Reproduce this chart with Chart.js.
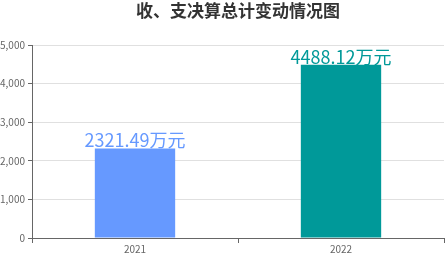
<!DOCTYPE html>
<html lang="zh">
<head>
  <meta charset="UTF-8">
  <title>收、支决算总计变动情况图</title>
  <style>
    html, body { margin: 0; padding: 0; background: white; }
    .chart-box { width: 445px; height: 253px; }
  </style>
</head>
<body>
  <div class="chart-box">
    <canvas id="bar-chart"></canvas>
  </div>
  <script src="https://cdn.jsdelivr.net/npm/chart.js@4.4.0/dist/chart.umd.min.js"></script>
  <script>
    const YEARS = ['2021', '2022'];
    const TOTALS = [2321.49, 4488.12];
    const BAR_COLORS = ['#6699ff', '#009999'];
    const FONT = '"Microsoft YaHei", "Noto Sans CJK SC", sans-serif';

    // 柱顶数值标签
    const valueLabels = {
      id: 'valueLabels',
      afterDatasetsDraw(chart) {
        const ctx = chart.ctx;
        const meta = chart.getDatasetMeta(0);
        ctx.save();
        ctx.font = '18px ' + FONT;
        ctx.textAlign = 'center';
        ctx.textBaseline = 'bottom';
        meta.data.forEach((bar, i) => {
          ctx.fillStyle = BAR_COLORS[i];
          ctx.fillText(TOTALS[i].toFixed(2) + '万元', bar.x, bar.y + 1);
        });
        ctx.restore();
      }
    };

    new Chart(document.getElementById('bar-chart'), {
      type: 'bar',
      data: {
        labels: YEARS,
        datasets: [{
          data: TOTALS,
          backgroundColor: BAR_COLORS,
          categoryPercentage: 1,
          barPercentage: 0.39
        }]
      },
      plugins: [valueLabels],
      options: {
        responsive: true,
        maintainAspectRatio: false,
        animation: false,
        layout: { padding: { top: 0, right: 1, left: 0, bottom: 0 } },
        plugins: {
          legend: { display: false },
          tooltip: { enabled: false },
          title: {
            display: true,
            fullSize: false,
            text: '收、支决算总计变动情况图',
            color: '#333',
            font: { family: FONT, size: 17, weight: 'bold' },
            padding: { top: 0, bottom: 24.6 }
          }
        },
        scales: {
          x: {
            afterFit(axis) { axis.height = 15; },
            grid: { drawOnChartArea: false, tickLength: 5, tickColor: '#666' },
            border: { color: '#666' },
            ticks: { color: '#666', font: { family: FONT, size: 10 }, padding: 0 }
          },
          y: {
            min: 0,
            max: 5000,
            afterFit(axis) { axis.width = 32; },
            grid: { color: '#e0e0e0', tickLength: 4, tickColor: '#666' },
            border: { color: '#666' },
            ticks: {
              stepSize: 1000,
              color: '#666',
              font: { family: FONT, size: 10 },
              padding: 3,
              callback: v => v.toLocaleString('en-US')
            }
          }
        }
      }
    });
  </script>
</body>
</html>
